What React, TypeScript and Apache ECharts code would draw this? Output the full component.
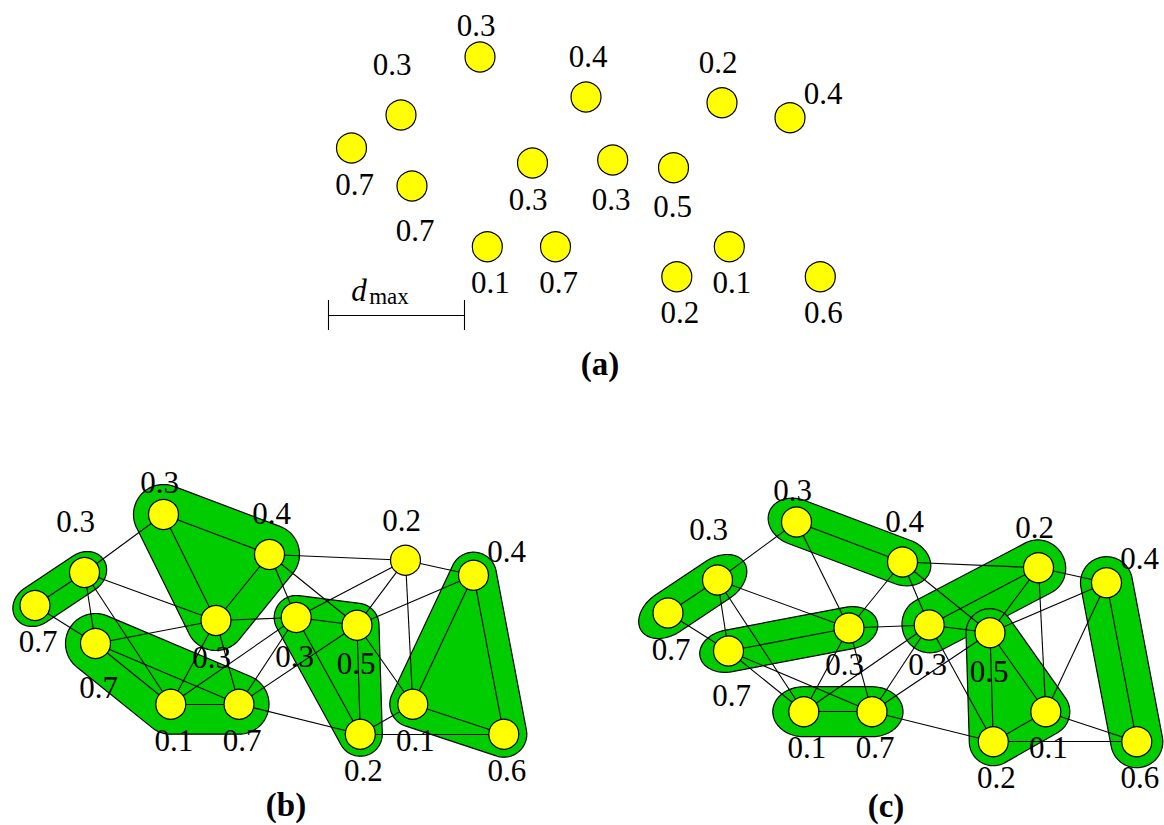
import React, { useEffect, useRef } from "react";
import * as echarts from "echarts";

// ---- data ----
const NODE_IDS = ["A", "B", "C", "D", "E", "F", "G", "H", "I", "J", "K", "L", "M", "N", "O"];
const NODE_VALUES = ["0.3", "0.4", "0.3", "0.7", "0.7", "0.3", "0.3", "0.5", "0.2", "0.4", "0.1", "0.7", "0.2", "0.1", "0.6"];
// node layout (panel (a) frame)
const NODE_X = [480, 586, 401, 351.5, 412, 532.5, 612.7, 673.5, 722, 790, 487.3, 555.5, 676.8, 729.3, 820.3];
const NODE_Y = [57, 97, 115, 148, 186, 163, 160, 167.7, 102.7, 117.7, 246.7, 246.7, 276.7, 246.7, 276.7];
// label offsets relative to node
const LABEL_DX = [-4, 2, -9, 3, 3, -4.5, -1.5, -1, -4, 33, 3, 3, 3, 2.5, 3];
const LABEL_DY = [-32, -41, -51, 36, 44, 36.5, 39, 38.5, -40, -24, 36, 36, 36, 36, 36];

const EDGES = [
  ["A", "B"], ["A", "C"], ["A", "F"], ["B", "F"], ["B", "G"], ["B", "H"], ["B", "I"],
  ["C", "D"], ["C", "E"], ["C", "F"], ["C", "K"], ["D", "E"], ["E", "F"], ["E", "K"],
  ["E", "L"], ["F", "G"], ["F", "K"], ["F", "L"], ["G", "H"], ["G", "I"], ["G", "K"],
  ["G", "L"], ["G", "M"], ["H", "I"], ["H", "J"], ["H", "L"], ["H", "M"], ["H", "N"],
  ["I", "J"], ["I", "N"], ["J", "N"], ["J", "O"], ["K", "L"], ["L", "M"], ["M", "N"],
  ["M", "O"], ["N", "O"],
];

const CLUSTERS_B = [["A", "B", "F"], ["C", "D"], ["E", "K", "L"], ["G", "H", "M"], ["J", "N", "O"]];
const CLUSTERS_C = [["A", "B"], ["C", "D"], ["E", "F"], ["K", "L"], ["G", "I"], ["H", "M", "N"], ["J", "O"]];

const PANEL_CAPTIONS = ["(a)", "(b)", "(c)"];
const PANEL_DX = [0, -316.5, 316.5];
const PANEL_DY = [0, 457.5, 465];
const CAPTION_X = [600, 286, 886];
const CAPTION_Y = [364, 805, 806];

const SCALE_BAR_X = [328.3, 464.3];
const SCALE_BAR_Y = 315;
const SCALE_TICK_HALF = 15;

// ---- styles ----
// [pad along cluster axis, pad perpendicular]
const BLOB_PAD_B = [[30, 30], [23, 20], [30, 30], [22, 22], [23, 23]];
const BLOB_PAD_C = [[29, 23], [32, 22], [29, 21], [31, 25], [27, 28], [24, 24], [26, 26]];
const GREEN = "#00cc00";
const YELLOW = "#ffff00";
const FONT = "'Liberation Serif', 'Times New Roman', serif";

function hull(points: number[][]): number[][] {
  const p = points.slice().sort((a, b) => a[0] - b[0] || a[1] - b[1]);
  const cross = (o: number[], a: number[], b: number[]) =>
    (a[0] - o[0]) * (b[1] - o[1]) - (a[1] - o[1]) * (b[0] - o[0]);
  const lower: number[][] = [];
  for (const pt of p) {
    while (lower.length >= 2 && cross(lower[lower.length - 2], lower[lower.length - 1], pt) <= 0) lower.pop();
    lower.push(pt);
  }
  const upper: number[][] = [];
  for (let i = p.length - 1; i >= 0; i--) {
    const pt = p[i];
    while (upper.length >= 2 && cross(upper[upper.length - 2], upper[upper.length - 1], pt) <= 0) upper.pop();
    upper.push(pt);
  }
  upper.pop();
  lower.pop();
  return lower.concat(upper);
}

const idx = (id: string) => NODE_IDS.indexOf(id);
const px = (k: number, p: number) => NODE_X[k] + PANEL_DX[p];
const py = (k: number, p: number) => NODE_Y[k] + PANEL_DY[p];

export default function App() {
  const ref = useRef<HTMLDivElement>(null);

  useEffect(() => {
    if (!ref.current) return;
    const chart = echarts.init(ref.current, undefined, { renderer: "svg" });

    const blobs: { panel: number; nodes: string[]; pad: number[] }[] = [];
    CLUSTERS_B.forEach((c, i) => blobs.push({ panel: 1, nodes: c, pad: BLOB_PAD_B[i] }));
    CLUSTERS_C.forEach((c, i) => blobs.push({ panel: 2, nodes: c, pad: BLOB_PAD_C[i] }));

    const blobData = blobs.map((b) => {
      const ks = b.nodes.map(idx);
      const cx = ks.reduce((s, k) => s + px(k, b.panel), 0) / ks.length;
      const cy = ks.reduce((s, k) => s + py(k, b.panel), 0) / ks.length;
      return [cx, cy];
    });

    const edgeData: any[] = [];
    [1, 2].forEach((p) => {
      EDGES.forEach(([a, b]) => {
        const ka = idx(a);
        const kb = idx(b);
        edgeData.push({ coords: [[px(ka, p), py(ka, p)], [px(kb, p), py(kb, p)]] });
      });
    });

    const scaleData = [
      { coords: [[SCALE_BAR_X[0], SCALE_BAR_Y], [SCALE_BAR_X[1], SCALE_BAR_Y]] },
      { coords: [[SCALE_BAR_X[0], SCALE_BAR_Y - SCALE_TICK_HALF], [SCALE_BAR_X[0], SCALE_BAR_Y + SCALE_TICK_HALF]] },
      { coords: [[SCALE_BAR_X[1], SCALE_BAR_Y - SCALE_TICK_HALF], [SCALE_BAR_X[1], SCALE_BAR_Y + SCALE_TICK_HALF]] },
    ];

    const nodeData: any[] = [];
    [0, 1, 2].forEach((p) => {
      NODE_IDS.forEach((id, k) => {
        nodeData.push({
          name: NODE_VALUES[k],
          value: [px(k, p), py(k, p)],
          label: { offset: [LABEL_DX[k], LABEL_DY[k]] },
        });
      });
    });

    const option: any = {
      animation: false,
      backgroundColor: "#ffffff",
      grid: { left: 0, right: 0, top: 0, bottom: 0, containLabel: false },
      xAxis: { type: "value", min: 0, max: 1164, show: false },
      yAxis: { type: "value", min: 0, max: 825, inverse: true, show: false },
      series: [
        {
          type: "custom",
          coordinateSystem: "cartesian2d",
          z: 1,
          silent: true,
          data: blobData,
          renderItem: (params: any, api: any) => {
            const b = blobs[params.dataIndex];
            const cs = b.nodes.map((id) => {
              const k = idx(id);
              return api.coord([px(k, b.panel), py(k, b.panel)]);
            });
            // principal axis: first to last node
            let ux = 1;
            let uy = 0;
            if (cs.length >= 2) {
              const dx = cs[cs.length - 1][0] - cs[0][0];
              const dy = cs[cs.length - 1][1] - cs[0][1];
              const len = Math.hypot(dx, dy) || 1;
              ux = dx / len;
              uy = dy / len;
            }
            const vx = -uy;
            const vy = ux;
            const [pa, pp] = b.pad;
            const pts: number[][] = [];
            cs.forEach((c) => {
              for (let a = 0; a < 120; a++) {
                const t = (a / 120) * Math.PI * 2;
                const ca = pa * Math.cos(t);
                const sp = pp * Math.sin(t);
                pts.push([c[0] + ca * ux + sp * vx, c[1] + ca * uy + sp * vy]);
              }
            });
            return {
              type: "polygon",
              shape: { points: hull(pts) },
              style: { fill: GREEN, stroke: "#000", lineWidth: 1.2 },
            };
          },
        },
        {
          type: "lines",
          coordinateSystem: "cartesian2d",
          z: 2,
          silent: true,
          data: edgeData,
          lineStyle: { color: "#000", width: 1.1, opacity: 1 },
        },
        {
          type: "lines",
          coordinateSystem: "cartesian2d",
          z: 2,
          silent: true,
          data: scaleData,
          lineStyle: { color: "#000", width: 1.1, opacity: 1 },
        },
        {
          type: "scatter",
          z: 3,
          silent: true,
          symbol: "circle",
          symbolSize: 30,
          itemStyle: { color: YELLOW, borderColor: "#000", borderWidth: 1.2, opacity: 1 },
          label: {
            show: true,
            position: "inside",
            formatter: (d: any) => d.name,
            color: "#000",
            fontFamily: FONT,
            fontSize: 31,
          },
          data: nodeData,
        },
      ],
      graphic: [
        ...PANEL_CAPTIONS.map((t, i) => ({
          type: "text",
          x: CAPTION_X[i],
          y: CAPTION_Y[i],
          z: 10,
          style: {
            text: t,
            fill: "#000",
            fontFamily: FONT,
            fontSize: 33,
            fontWeight: "bold",
            textAlign: "center",
            textVerticalAlign: "middle",
          },
        })),
        {
          type: "text",
          x: 359,
          y: 290,
          z: 10,
          style: {
            text: "d",
            fill: "#000",
            fontFamily: FONT,
            fontSize: 31,
            fontStyle: "italic",
            textAlign: "center",
            textVerticalAlign: "middle",
          },
        },
        {
          type: "text",
          x: 389,
          y: 296,
          z: 10,
          style: {
            text: "max",
            fill: "#000",
            fontFamily: FONT,
            fontSize: 23,
            textAlign: "center",
            textVerticalAlign: "middle",
          },
        },
      ],
    };

    chart.setOption(option);
    return () => chart.dispose();
  }, []);

  return (
    <div
      ref={ref}
      style={{ position: "fixed", left: 0, top: 0, width: 1164, height: 825, background: "#fff" }}
    />
  );
}
